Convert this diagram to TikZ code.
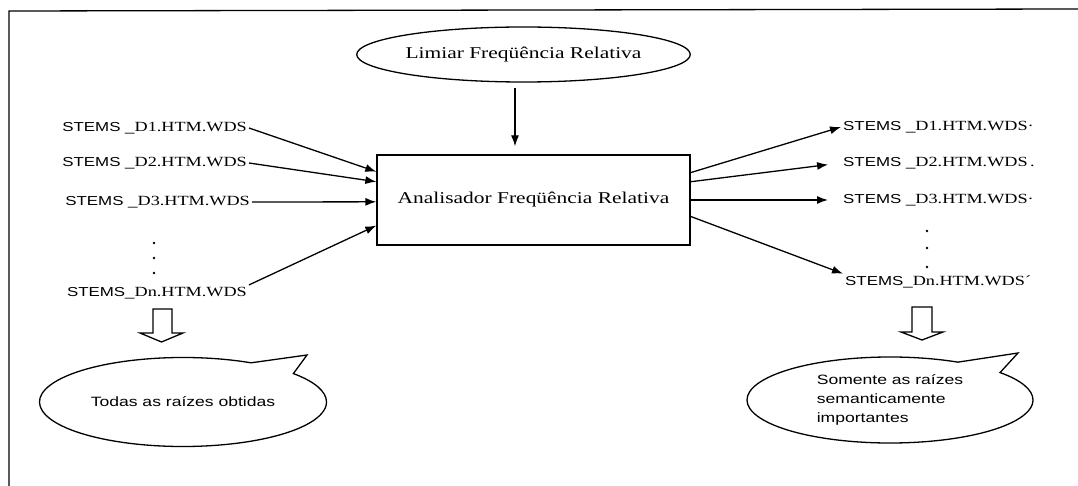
\documentclass[tikz,border=0pt]{standalone}
\usepackage{fontspec}
\usetikzlibrary{arrows.meta,shapes.geometric,shapes.callouts,calc}
\newfontfamily\labsans[FakeStretch=1.3]{Liberation Sans}
\newfontfamily\labserif[FakeStretch=1.3]{Liberation Serif}
% file-name label: sans prefix, serif remainder
\newcommand{\stemname}[2]{{\fontsize{13}{15}\labsans #1}{\fontsize{14}{15}\labserif #2}}

\tikzset{
  every picture/.style={line width=1.3pt},
  arr/.style={-{Latex[length=11pt,width=8pt]}, line width=1.3pt},
  fname/.style={inner sep=1.5pt, font=\fontsize{13}{15}\labsans},
  procbox/.style={draw, rectangle, minimum width=313pt, minimum height=90pt, inner sep=0pt,
    font=\fontsize{16.5}{18}\labserif},
  paramnode/.style={draw, ellipse, minimum width=313pt, minimum height=55pt, inner sep=0pt,
    font=\fontsize{16.5}{18}\labserif},
  bubble/.style={draw, ellipse callout, callout pointer arc=22, inner sep=0pt,
    font=\fontsize{13.5}{19}\labsans, align=left},
  blockarrow/.style={draw, line width=1.3pt, fill=white},
  dotmark/.style={fill=black}
}

\begin{document}
\begin{tikzpicture}[x=1pt,y=-1pt]
\useasboundingbox (0,0) rectangle (1078,486);

% frame
\draw (9,486) -- (9,11) -- (1078,9);

% threshold parameter and analyser
\node[paramnode] (lim) at (523.5,54.5) {Limiar Freqüência Relativa};
\node[procbox] (box) at (533.5,200) {Analisador Freqüência Relativa};
\draw[arr] ([xshift=-8.5pt,yshift=-5pt]lim.south) -- ([xshift=-18.5pt,yshift=8pt]box.north);

% input stem files
\node[fname, anchor=east] (l1) at (249,128) {\stemname{STEMS \_}{D1.HTM.WDS}};
\node[fname, anchor=east] (l2) at (249,163) {\stemname{STEMS \_}{D2.HTM.WDS}};
\node[fname, anchor=east] (l3) at (252,202) {\stemname{STEMS \_}{D3.HTM.WDS}};
\node[fname, anchor=east] (l4) at (249,293) {\stemname{STEMS\_}{Dn.HTM.WDS}};
\fill[dotmark] (154,243) circle (1.4pt);
\fill[dotmark] (154,258) circle (1.4pt);
\fill[dotmark] (154,273) circle (1.4pt);

\draw[arr] (l1.east) -- ($(box.north west)!0.19!(box.south west)$);
\draw[arr] (l2.east) -- ($(box.north west)!0.30!(box.south west)$);
\draw[arr] (l3.east) -- ($(box.north west)!0.52!(box.south west)$);
\draw[arr] (l4.north east) -- ($(box.north west)!0.78!(box.south west)$);

% filtered stem files
\node[fname, anchor=west] (r1) at (841,127) {\stemname{STEMS \_}{D1.HTM.WDS·}};
\node[fname, anchor=west] (r2) at (841,163) {\stemname{STEMS \_}{D2.HTM.WDS\,.}};
\node[fname, anchor=west] (r3) at (841,200) {\stemname{STEMS \_}{D3.HTM.WDS·}};
\node[fname, anchor=west] (r4) at (843,282) {\stemname{STEMS\_}{Dn.HTM.WDS´}};
\fill[dotmark] (927,231) circle (1.4pt);
\fill[dotmark] (927,248) circle (1.4pt);
\fill[dotmark] (927,267) circle (1.4pt);

\draw[arr] ($(box.north east)!0.20!(box.south east)$) -- (r1.west);
\draw[arr, shorten >=13pt] ($(box.north east)!0.30!(box.south east)$) -- (r2.west);
\draw[arr, shorten >=13pt] ($(box.north east)!0.50!(box.south east)$) -- (r3.west);
\draw[arr] ($(box.north east)!0.68!(box.south east)$) -- (r4.north west);

% hollow block arrows
\draw[blockarrow] (153,309) -- (153,333) -- (140,333) -- (161.5,342) -- (183,333)
  -- (172,333) -- (172,309) -- cycle;
\draw[blockarrow] (912,307) -- (912,332) -- (901,332) -- (922,340) -- (943,332)
  -- (932,332) -- (932,307) -- cycle;

% speech bubbles
\node[bubble, minimum width=287pt, minimum height=89pt,
  callout absolute pointer={(307,355)}] (c1) at (183,402) {Todas as raízes obtidas};
\node[bubble, minimum width=286pt, minimum height=86pt,
  callout absolute pointer={(1018,353)}] (c2) at (890,400)
  {Somente as raízes\\semanticamente\\importantes};
\end{tikzpicture}
\end{document}
